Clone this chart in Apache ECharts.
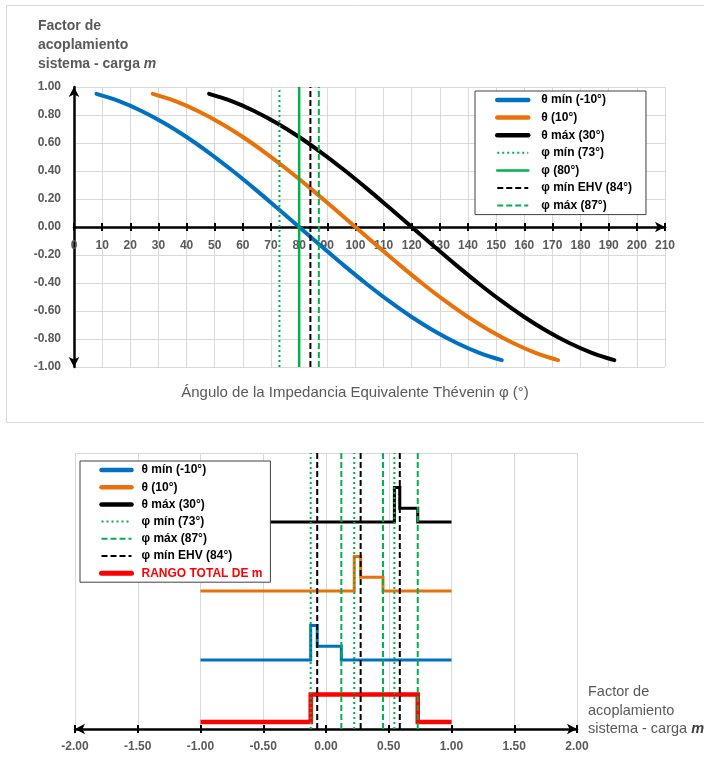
<!DOCTYPE html>
<html>
<head>
<meta charset="utf-8">
<script src="https://cdn.jsdelivr.net/npm/echarts@6/dist/echarts.min.js"></script>
<style>
  html, body { margin: 0; padding: 0; background: #fff; }
  #chart { width: 704px; height: 763px; }
</style>
</head>
<body>
<div id="chart"></div>
<script>
// ---- Upper chart: coupling factor m versus Thévenin impedance angle φ ----
const thetaMinAngle = [8, 16, 24, 32, 40, 48, 56, 64, 72, 80, 88, 96, 104, 112, 120, 128, 136, 144, 152];
const thetaMinFactor = [0.951, 0.899, 0.829, 0.743, 0.643, 0.530, 0.407, 0.276, 0.139, 0.000, -0.139, -0.276, -0.407, -0.530, -0.643, -0.743, -0.829, -0.899, -0.951];

const thetaMidAngle = [28, 36, 44, 52, 60, 68, 76, 84, 92, 100, 108, 116, 124, 132, 140, 148, 156, 164, 172];
const thetaMidFactor = [0.951, 0.899, 0.829, 0.743, 0.643, 0.530, 0.407, 0.276, 0.139, 0.000, -0.139, -0.276, -0.407, -0.530, -0.643, -0.743, -0.829, -0.899, -0.951];

const thetaMaxAngle = [48, 56, 64, 72, 80, 88, 96, 104, 112, 120, 128, 136, 144, 152, 160, 168, 176, 184, 192];
const thetaMaxFactor = [0.951, 0.899, 0.829, 0.743, 0.643, 0.530, 0.407, 0.276, 0.139, 0.000, -0.139, -0.276, -0.407, -0.530, -0.643, -0.743, -0.829, -0.899, -0.951];

const phiMin = 73;
const phiNominal = 80;
const phiMinEhv = 84;
const phiMax = 87;

// ---- Lower chart: ranges of m (step levels are only stacking offsets) ----
const rangeBlueM = [-1, -0.122, -0.122, -0.070, -0.070, 0.122, 0.122, 1];
const rangeBlueLevel = [2.5, 2.5, 3.75, 3.75, 3.0, 3.0, 2.5, 2.5];

const rangeOrangeM = [-1, 0.225, 0.225, 0.276, 0.276, 0.454, 0.454, 1];
const rangeOrangeLevel = [5.0, 5.0, 6.25, 6.25, 5.5, 5.5, 5.0, 5.0];

const rangeBlackM = [-1, 0.545, 0.545, 0.588, 0.588, 0.731, 0.731, 1];
const rangeBlackLevel = [7.5, 7.5, 8.75, 8.75, 8.0, 8.0, 7.5, 7.5];

const rangeTotalM = [-1, -0.122, -0.122, 0.731, 0.731, 1];
const rangeTotalLevel = [0.25, 0.25, 1.25, 1.25, 0.25, 0.25];

const mDotted = [-0.122, 0.225, 0.545];
const mDashedGreen = [0.122, 0.454, 0.731];
const mDashedBlack = [-0.070, 0.276, 0.588];

const upperTicks = { min: 0, max: 210, step: 10 };
const lowerTicks = { min: -2, max: 2, step: 0.5 };

// ---- Names ----
const N_TMIN = 'θ mín (-10°)';
const N_TMID = 'θ (10°)';
const N_TMAX = 'θ máx (30°)';
const N_PMIN = 'φ mín (73°)';
const N_PNOM = 'φ (80°)';
const N_PEHV = 'φ mín EHV (84°)';
const N_PMAX = 'φ máx (87°)';
const N_TOTAL = 'RANGO TOTAL DE m';

const FONT = '"Liberation Sans", Arial, sans-serif';
const GRAY = '#595959';
const GRID_GRAY = '#d9d9d9';
const BLUE = '#0070C0';
const ORANGE = '#E8710A';
const GREEN = '#00B050';
const RED = '#FF0000';

const zip = (xs, ys) => xs.map((x, i) => [x, ys[i]]);

function curve(name, xs, ys, color) {
  return {
    name, type: 'line', xAxisIndex: 0, yAxisIndex: 0,
    data: zip(xs, ys), smooth: 0.4, symbol: 'none', color,
    lineStyle: { color, width: 4, cap: 'round' }
  };
}

function vline(name, x, y0, y1, color, width, type, gi) {
  return {
    name, type: 'line', xAxisIndex: gi === 0 ? 0 : 2, yAxisIndex: gi,
    data: [[x, y0], [x, y1]], symbol: 'none', color,
    lineStyle: { color, width, type }
  };
}

function step(name, xs, ys, color, width) {
  return {
    name, type: 'line', xAxisIndex: 2, yAxisIndex: 1,
    data: zip(xs, ys), symbol: 'none', color,
    lineStyle: { color, width, join: 'miter' }
  };
}

const DOT = [2, 3];
const DASH = [6, 3];

const series = [
  curve(N_TMIN, thetaMinAngle, thetaMinFactor, BLUE),
  curve(N_TMID, thetaMidAngle, thetaMidFactor, ORANGE),
  curve(N_TMAX, thetaMaxAngle, thetaMaxFactor, '#000'),
  vline(N_PMIN, phiMin, -1, 1, GREEN, 2, DOT, 0),
  vline(N_PNOM, phiNominal, -1, 1, GREEN, 2.5, 'solid', 0),
  vline(N_PEHV, phiMinEhv, -1, 1, '#000', 2, DASH, 0),
  vline(N_PMAX, phiMax, -1, 1, GREEN, 2, DASH, 0),

  step(N_TOTAL, rangeTotalM, rangeTotalLevel, RED, 4.5),
  step(N_TMIN, rangeBlueM, rangeBlueLevel, BLUE, 3),
  step(N_TMID, rangeOrangeM, rangeOrangeLevel, ORANGE, 3),
  step(N_TMAX, rangeBlackM, rangeBlackLevel, '#000', 3)
];
mDotted.forEach(m => series.push(vline(N_PMIN, m, 0, 10, GREEN, 2, DOT, 1)));
mDashedGreen.forEach(m => series.push(vline(N_PMAX, m, 0, 10, GREEN, 2, DASH, 1)));
mDashedBlack.forEach(m => series.push(vline(N_PEHV, m, 0, 10, '#000', 2, DASH, 1)));

const labelStyle = { color: GRAY, fontFamily: FONT, fontSize: 12, fontWeight: 'bold' };

// Upper grid: 280px tall, so the φ axis sits 140px above the bottom edge (m = 0).
const UPPER_ZERO_OFFSET = -140;

function mainX(grid, t, arrows, margin, offset) {
  return {
    type: 'value', gridIndex: grid, position: 'bottom', offset,
    min: t.min, max: t.max, interval: t.step,
    axisLine: { show: true, onZero: false,
      symbol: arrows, symbolSize: [8, 10],
      lineStyle: { color: '#000', width: 2.5 } },
    axisTick: { show: true, inside: false, length: 4, lineStyle: { color: '#000', width: 2 } },
    axisLabel: Object.assign({ margin, formatter: v => grid === 0 ? String(Math.round(v)) : v.toFixed(2) }, labelStyle),
    splitLine: { show: true, lineStyle: { color: GRID_GRAY, width: 1 } }
  };
}
function tickX(grid, t, offset) {
  return {
    type: 'value', gridIndex: grid, position: 'bottom', offset,
    min: t.min, max: t.max, interval: t.step,
    axisLine: { show: false, onZero: false },
    axisTick: { show: true, inside: true, length: 4, lineStyle: { color: '#000', width: 2 } },
    axisLabel: { show: false },
    splitLine: { show: false }
  };
}

// Legend entries: thick strokes for the θ curves and the total range.
const thick = (name, w, extra) => Object.assign({ name, lineStyle: { width: w, cap: 'round' } }, extra || {});

const legendBase = {
  orient: 'vertical',
  borderColor: '#404040', borderWidth: 1, backgroundColor: '#fff',
  selectedMode: false,
  itemStyle: { opacity: 0 },
  textStyle: { fontFamily: FONT, fontSize: 12, fontWeight: 'bold', color: '#000' }
};

const option = {
  animation: false,
  backgroundColor: '#fff',
  textStyle: { fontFamily: FONT },
  grid: [
    { left: 74, top: 87, width: 591, height: 280 },
    { left: 75, top: 453, width: 502, height: 276 }
  ],
  xAxis: [
    mainX(0, upperTicks, ['none', 'arrow'], 13, UPPER_ZERO_OFFSET),
    tickX(0, upperTicks, UPPER_ZERO_OFFSET),
    mainX(1, lowerTicks, ['arrow', 'arrow'], 12, 0),
    tickX(1, lowerTicks, 0)
  ],
  yAxis: [
    {
      type: 'value', gridIndex: 0, position: 'left',
      min: -1, max: 1, interval: 0.2,
      axisLine: { show: true, onZero: false, symbol: ['arrow', 'arrow'], symbolSize: [8, 10],
        lineStyle: { color: '#000', width: 2.5 } },
      axisTick: { show: false },
      axisLabel: Object.assign({ margin: 13, formatter: v => v.toFixed(2) }, labelStyle),
      splitLine: { show: true, lineStyle: { color: GRID_GRAY, width: 1 } }
    },
    {
      type: 'value', gridIndex: 1, min: 0, max: 10, interval: 10,
      axisLine: { show: false }, axisTick: { show: false }, axisLabel: { show: false },
      splitLine: { show: true, lineStyle: { color: GRID_GRAY, width: 1 } }
    }
  ],
  legend: [
    Object.assign({}, legendBase, {
      data: [thick(N_TMIN, 4.5), thick(N_TMID, 4.5), thick(N_TMAX, 4.5),
        N_PMIN, thick(N_PNOM, 2.5), N_PEHV, N_PMAX],
      left: 475, top: 91,
      itemWidth: 31, itemHeight: 14, itemGap: 5.6,
      padding: [3, 14, 3, 20],
      textStyle: Object.assign({}, legendBase.textStyle, { padding: [0, 0, 0, 8] })
    }),
    Object.assign({}, legendBase, {
      data: [thick(N_TMIN, 4.5), thick(N_TMID, 4.5), thick(N_TMAX, 4.5), N_PMIN, N_PMAX, N_PEHV,
        thick(N_TOTAL, 5, { textStyle: { color: RED } })],
      left: 80, top: 461,
      itemWidth: 30, itemHeight: 14, itemGap: 5.2,
      padding: [3, 8, 3, 19],
      textStyle: Object.assign({}, legendBase.textStyle, { padding: [0, 0, 0, 5] })
    })
  ],
  graphic: [
    {
      type: 'rect', silent: true, z: -10,
      shape: { x: 6.5, y: 5.5, width: 760, height: 417 },
      style: { fill: 'none', stroke: GRID_GRAY, lineWidth: 1 }
    },
    {
      type: 'text', x: 38, y: 17,
      style: {
        text: 'Factor de\nacoplamiento\nsistema - carga {i|m}',
        fill: GRAY, font: 'bold 14px ' + FONT, lineHeight: 19, verticalAlign: 'top',
        rich: { i: { fill: GRAY, fontStyle: 'italic', fontWeight: 'bold', fontSize: 14, fontFamily: FONT, lineHeight: 19 } }
      }
    },
    {
      type: 'text', x: 355, y: 393,
      style: {
        text: 'Ángulo de la Impedancia Equivalente Thévenin φ (°)',
        fill: GRAY, font: '15px ' + FONT, align: 'center', verticalAlign: 'middle'
      }
    },
    {
      type: 'text', x: 588, y: 683,
      style: {
        text: 'Factor de\nacoplamiento\nsistema - carga {i|m}',
        fill: GRAY, font: '14.5px ' + FONT, lineHeight: 18.5, verticalAlign: 'top',
        rich: { i: { fill: '#404040', fontStyle: 'italic', fontWeight: 'bold', fontSize: 14.5, fontFamily: FONT, lineHeight: 18.5 } }
      }
    }
  ],
  series
};

const chart = echarts.init(document.getElementById('chart'), null, { renderer: 'canvas' });
chart.setOption(option);
</script>
</body>
</html>
